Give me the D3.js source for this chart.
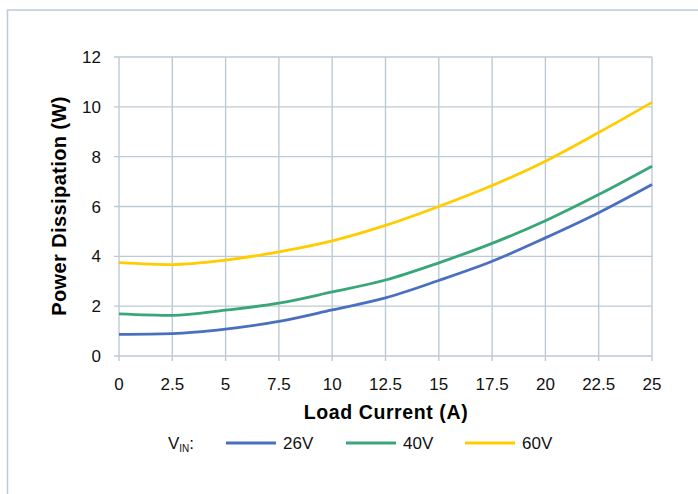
<!DOCTYPE html>
<html>
<head>
<meta charset="utf-8">
<script src="https://cdn.jsdelivr.net/npm/d3@7"></script>
<style>
  body { margin: 0; background: #fff; }
  svg { display: block; font-family: "Liberation Sans", Arial, sans-serif; }
</style>
</head>
<body>
<svg width="698" height="494"></svg>
<script>
"use strict"

// load current (A)
var current = [0, 2.5, 5, 7.5, 10, 12.5, 15, 17.5, 20, 22.5, 25];
// power dissipation (W) per input voltage
var p26 = [0.87, 0.9, 1.08, 1.39, 1.85, 2.33, 3.03, 3.8, 4.74, 5.75, 6.88];
var p40 = [1.69, 1.63, 1.84, 2.12, 2.57, 3.05, 3.74, 4.52, 5.43, 6.48, 7.62];
var p60 = [3.75, 3.67, 3.85, 4.18, 4.62, 5.24, 6.0, 6.84, 7.82, 8.97, 10.18];
var seriesNames = ["26V", "40V", "60V"];
var seriesColors = ["#4a6fbf", "#38a677", "#ffcc00"];
var xTicks = [0, 2.5, 5, 7.5, 10, 12.5, 15, 17.5, 20, 22.5, 25];
var yTicks = [0, 2, 4, 6, 8, 10, 12];

var series = [p26, p40, p60];

var svg = d3.select("svg");
var plotL = 119, plotR = 652, plotT = 57, plotB = 356;
var grid = "#bccbd3";

// outer frame, runs off the right and bottom edges
svg.append("rect")
    .attr("x", 7.5).attr("y", 10)
    .attr("width", 720).attr("height", 520)
    .attr("fill", "none").attr("stroke", "#b9ccd5").attr("stroke-width", 1.5);

var x = d3.scaleLinear().domain([0, 25]).range([plotL, plotR]);
var y = d3.scaleLinear().domain([0, 12]).range([plotB, plotT]);

// gridlines
var g = svg.append("g").attr("stroke", grid).attr("stroke-width", 1.4);
g.selectAll(".vx").data(xTicks).enter().append("line")
    .attr("x1", d => x(d)).attr("x2", d => x(d))
    .attr("y1", plotT).attr("y2", plotB + 5);
g.selectAll(".hy").data(yTicks).enter().append("line")
    .attr("x1", plotL - 5).attr("x2", plotR)
    .attr("y1", d => y(d)).attr("y2", d => y(d));

// tick labels
svg.append("g").selectAll("text").data(xTicks).enter().append("text")
    .attr("x", d => x(d)).attr("y", 390)
    .attr("text-anchor", "middle").attr("font-size", 17).attr("fill", "#111")
    .text(d => d);
svg.append("g").selectAll("text").data(yTicks).enter().append("text")
    .attr("x", 101).attr("y", d => y(d) + 6)
    .attr("text-anchor", "end").attr("font-size", 17).attr("fill", "#111")
    .text(d => d);

// axis titles
svg.append("text")
    .attr("x", 386).attr("y", 419)
    .attr("text-anchor", "middle").attr("font-size", 19.5).attr("font-weight", "bold")
    .attr("letter-spacing", 0.6)
    .text("Load Current (A)");
svg.append("text")
    .attr("transform", "translate(66,206) rotate(-90)")
    .attr("text-anchor", "middle").attr("font-size", 20).attr("font-weight", "bold")
    .attr("letter-spacing", 0.4)
    .text("Power Dissipation (W)");

// curves
var line = d3.line()
    .x((d, i) => x(current[i]))
    .y(d => y(d))
    .curve(d3.curveMonotoneX);

svg.append("g").selectAll("path").data(series).enter().append("path")
    .attr("d", line)
    .attr("fill", "none")
    .attr("stroke", (d, i) => seriesColors[i])
    .attr("stroke-width", 2.8);

// legend
var ly = 443;
var vin = svg.append("text").attr("x", 168).attr("y", ly + 6)
    .attr("font-size", 17).attr("fill", "#111");
vin.append("tspan").text("V");
vin.append("tspan").attr("font-size", 10).attr("dy", 3).text("IN");
vin.append("tspan").attr("dy", -3).text(":");

var lx = [226, 346, 465];
var leg = svg.append("g").selectAll("g").data(seriesNames).enter().append("g");
leg.append("line")
    .attr("x1", (d, i) => lx[i]).attr("x2", (d, i) => lx[i] + 50)
    .attr("y1", ly).attr("y2", ly)
    .attr("stroke", (d, i) => seriesColors[i]).attr("stroke-width", 2.8);
leg.append("text")
    .attr("x", (d, i) => lx[i] + 57).attr("y", ly + 6)
    .attr("font-size", 17).attr("fill", "#111")
    .text(d => d);
</script>
</body>
</html>
